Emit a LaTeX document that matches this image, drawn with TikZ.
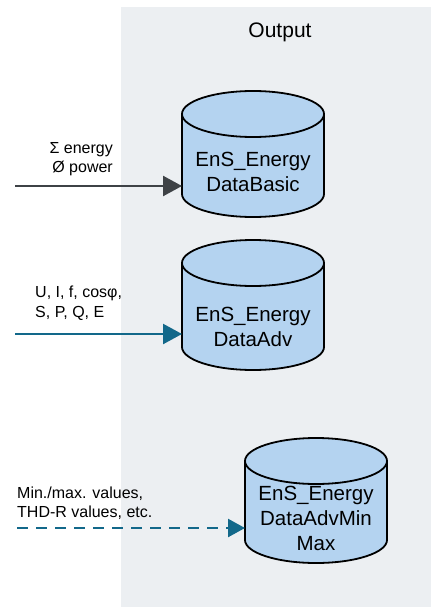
\documentclass[tikz,border=0pt]{standalone}
\usepackage{fontspec}
\setmainfont{Liberation Sans}
\usetikzlibrary{arrows.meta}
\definecolor{panelbg}{RGB}{236,239,242}
\definecolor{cylfill}{RGB}{180,211,240}
\definecolor{darkarrow}{RGB}{62,66,70}
\definecolor{tealarrow}{RGB}{18,104,138}
\tikzset{
  cylbody/.style={fill=cylfill,draw=black,line width=1.8pt,line join=round},
  cylline/.style={draw=black,line width=1.8pt},
  cyltext/.style={align=center,inner sep=0pt,font=\fontsize{20.5}{25}\selectfont},
  lbl/.style={inner sep=0pt,font=\fontsize{16}{19.5}\selectfont},
  arr/.style={line width=2.4pt,-{Triangle[length=19pt,width=20pt]}},
}
\begin{document}
\begin{tikzpicture}[x=1pt,y=1pt]
\useasboundingbox (0,0) rectangle (431,-607);
% panel
\fill[panelbg] (121,-7) rectangle (431,-607);
\node[font=\fontsize{21}{25}\selectfont,inner sep=0pt] (title) at (280,-32) {Output};
% cylinder 1
\path[cylbody] (182,-114) -- (182,-194) arc[start angle=180,end angle=360,x radius=71pt,y radius=23pt] -- (324,-114) arc[start angle=0,end angle=180,x radius=71pt,y radius=23pt] -- cycle;
\draw[cylline] (182,-114) arc[start angle=180,end angle=360,x radius=71pt,y radius=23pt];
\node[cyltext] (t1) at (253,-172) {EnS\_Energy\\DataBasic};
\coordinate (c1w) at (182,-160);
% cylinder 2
\path[cylbody] (182,-263) -- (182,-347) arc[start angle=180,end angle=360,x radius=71pt,y radius=23pt] -- (324,-263) arc[start angle=0,end angle=180,x radius=71pt,y radius=23pt] -- cycle;
\draw[cylline] (182,-263) arc[start angle=180,end angle=360,x radius=71pt,y radius=23pt];
\node[cyltext] (t2) at (253,-327) {EnS\_Energy\\DataAdv};
\coordinate (c2w) at (182,-310);
% cylinder 3
\path[cylbody] (245,-461) -- (245,-540) arc[start angle=180,end angle=360,x radius=71pt,y radius=23pt] -- (387,-461) arc[start angle=0,end angle=180,x radius=71pt,y radius=23pt] -- cycle;
\draw[cylline] (245,-461) arc[start angle=180,end angle=360,x radius=71pt,y radius=23pt];
\node[cyltext] (t3) at (316,-518) {EnS\_Energy\\DataAdvMin\\Max};
\coordinate (c3w) at (245,-500);
% inputs
\coordinate (s1) at (15,-186);
\coordinate (s2) at (15,-334);
\coordinate (s3) at (17,-528);
\draw[arr,darkarrow] (s1) -- (s1 -| c1w);
\draw[arr,tealarrow] (s2) -- (s2 -| c2w);
\draw[tealarrow,line width=2.4pt,dash pattern=on 11pt off 8pt,-{Triangle[length=17pt,width=18pt]}] (s3) -- (s3 -| c3w);
% labels
\node[lbl,align=right,anchor=east] (l1) at (113,-159) {Σ energy\\Ø power};
\node[lbl,align=left,anchor=west] (l2) at (35,-303) {U, I, f, cosφ,\\S, P, Q, E};
\node[lbl,align=left,anchor=west] (l3) at (17,-503) {Min./max. values,\\THD-R values, etc.};
\end{tikzpicture}
\end{document}
